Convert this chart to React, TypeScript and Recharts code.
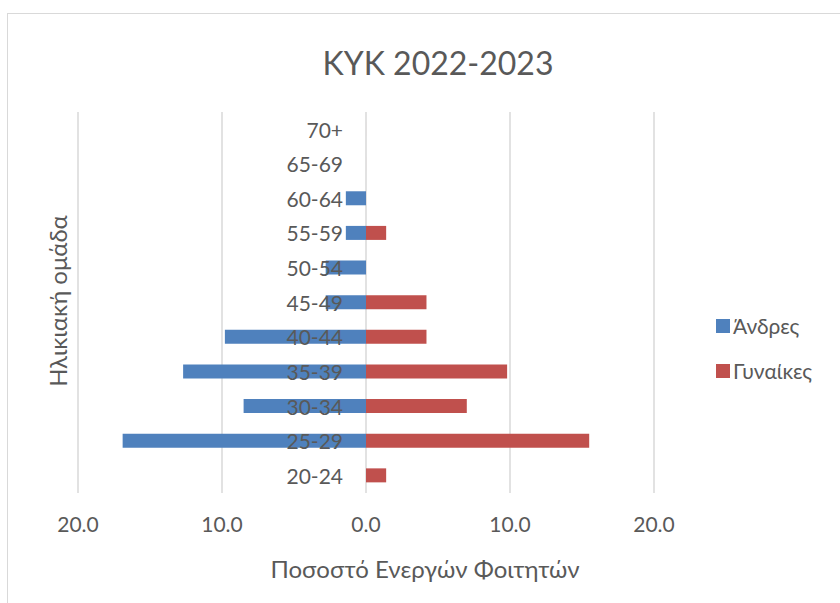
import React from 'react';
import { BarChart, Bar, XAxis, YAxis, CartesianGrid, Legend, LabelList } from 'recharts';

const ageGroups = ['20-24', '25-29', '30-34', '35-39', '40-44', '45-49', '50-54', '55-59', '60-64', '65-69', '70+'];
const menValues = [0, 16.9, 8.5, 12.7, 9.8, 2.8, 2.8, 1.4, 1.4, 0, 0];
const womenValues = [1.4, 15.5, 7.0, 9.8, 4.2, 4.2, 0, 1.4, 0, 0, 0];
const xTicks = [-20, -10, 0, 10, 20];

const TEXT = '#595959';
const FONT = 'Lato, "Open Sans", sans-serif';

// men are drawn to the left, so store them negative
const data = ageGroups.map((age, i) => ({
  age,
  men: -menValues[i],
  women: womenValues[i],
}));

const AgeLabel = (props: any) => {
  const { x, y, height, value } = props;
  return (
    <text
      x={x - 23}
      y={y + height / 2}
      textAnchor="end"
      dominantBaseline="central"
      fill={TEXT}
      fontSize={21}
      fontFamily={FONT}
    >
      {value}
    </text>
  );
};

const LegendBox = (props: any) => {
  const { payload } = props;
  return (
    <div style={{ fontFamily: FONT, fontSize: 21, color: TEXT }}>
      {(payload || []).map((p: any) => (
        <div key={p.value} style={{ display: 'flex', alignItems: 'center', height: 45 }}>
          <span style={{ display: 'inline-block', width: 14, height: 14, background: p.color, marginRight: 3 }} />
          <span>{p.value}</span>
        </div>
      ))}
    </div>
  );
};

export default function App() {
  return (
    <div style={{ position: 'absolute', left: 0, top: 0, width: 840, height: 603, background: '#fff', overflow: 'hidden' }}>
      <div style={{ position: 'absolute', left: 7, top: 13, width: 900, height: 620, border: '1.5px solid #d9d9d9' }} />
      <svg width={840} height={603} style={{ position: 'absolute', left: 0, top: 0 }}>
        <text x={438} y={75} textAnchor="middle" fill={TEXT} fontSize={32} fontFamily={FONT}>
          KYK 2022-2023
        </text>
        <text x={425} y={578} textAnchor="middle" fill={TEXT} fontSize={24} fontFamily={FONT}>
          Ποσοστό Ενεργών Φοιτητών
        </text>
        <text x={67} y={301} textAnchor="middle" fill={TEXT} fontSize={24} fontFamily={FONT} transform="rotate(-90 67 301)">
          Ηλικιακή ομάδα
        </text>
      </svg>
      <div style={{ position: 'absolute', left: 0, top: 0 }}>
        <BarChart
          width={840}
          height={603}
          data={data}
          layout="vertical"
          stackOffset="sign"
          barSize={14}
          margin={{ top: 112, bottom: 80, left: 78, right: 186 }}
        >
          <CartesianGrid horizontal={false} stroke="#d9d9d9" strokeWidth={1.5} />
          <XAxis
            type="number"
            domain={[-20, 20]}
            ticks={xTicks}
            height={30}
            axisLine={false}
            tickLine={false}
            tickSize={0}
            tickMargin={24}
            tickFormatter={(v: number) => Math.abs(v).toFixed(1)}
            tick={{ fill: TEXT, fontSize: 21, fontFamily: FONT }}
          />
          <YAxis type="category" dataKey="age" reversed hide />
          <Legend
            layout="vertical"
            align="center"
            verticalAlign="middle"
            content={<LegendBox />}
            wrapperStyle={{ position: 'absolute', left: 716, top: 303, width: 'auto' }}
          />
          <Bar dataKey="men" name="Άνδρες" stackId="a" fill="#4F81BD" isAnimationActive={false} />
          <Bar dataKey="women" name="Γυναίκες" stackId="a" fill="#C0504D" minPointSize={0.01} isAnimationActive={false}>
            <LabelList dataKey="age" content={<AgeLabel />} />
          </Bar>
        </BarChart>
      </div>
    </div>
  );
}
